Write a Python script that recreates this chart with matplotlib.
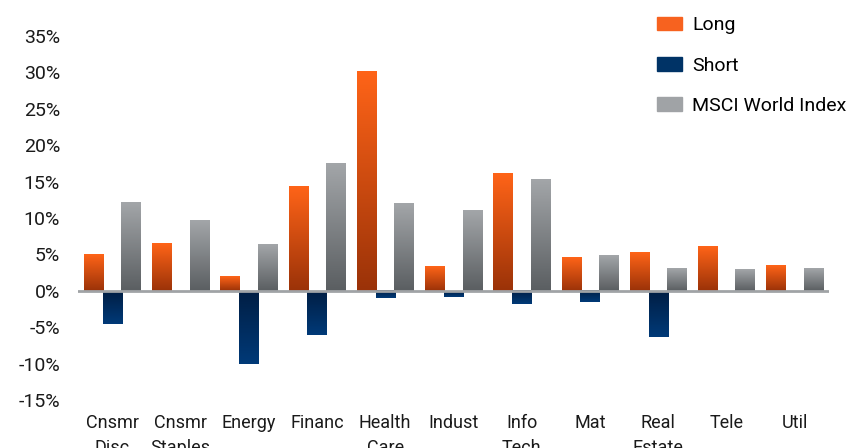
import numpy as np
import matplotlib
matplotlib.use("Agg")
from matplotlib import pyplot as plt
from matplotlib.colors import LinearSegmentedColormap
from matplotlib.patches import Patch

categories = ['Cnsmr\nDisc', 'Cnsmr\nStaples', 'Energy', 'Financ', 'Health\nCare', 'Indust',
              'Info\nTech', 'Mat', 'Real\nEstate', 'Tele', 'Util']
long_vals = [5.0, 6.5, 2.0, 14.3, 30.1, 3.4, 16.1, 4.6, 5.3, 6.1, 3.5]
short_vals = [-4.5, 0.0, -10.0, -6.0, -1.0, -0.8, -1.8, -1.6, -6.3, 0.0, 0.0]
msci_vals = [12.1, 9.7, 6.4, 17.5, 12.0, 11.1, 15.3, 4.9, 3.1, 3.0, 3.1]
yticks = [-15, -10, -5, 0, 5, 10, 15, 20, 25, 30, 35]

plt.rcParams['font.family'] = ['Roboto', 'DejaVu Sans']

fig = plt.figure(figsize=(8.49, 4.48), dpi=100)
ax = fig.add_axes([0.092, 0.107, 0.884, 0.813])

x = np.arange(len(categories))
w = 0.28
off = 0.275

# gradients: (bottom colour, top colour)
grad_long = LinearSegmentedColormap.from_list('lg', ['#9a3208', '#ff6418'])
grad_msci = LinearSegmentedColormap.from_list('mg', ['#5a5e61', '#a3a6a9'])
grad_short = LinearSegmentedColormap.from_list('sg', ['#003a78', '#001e44'])

b_long = ax.bar(x - off, long_vals, w, color='none')
b_short = ax.bar(x, short_vals, w, color='none')
b_msci = ax.bar(x + off, msci_vals, w, color='none')

grad = np.linspace(0, 1, 256).reshape(-1, 1)
for bars, cmap in [(b_long, grad_long), (b_short, grad_short), (b_msci, grad_msci)]:
    for b in bars:
        bx, by = b.get_x(), b.get_y()
        bw, bh = b.get_width(), b.get_height()
        if bh == 0:
            continue
        y0, y1 = min(by, by + bh), max(by, by + bh)
        ax.imshow(grad, extent=[bx, bx + bw, y0, y1], origin='lower',
                  cmap=cmap, aspect='auto', zorder=2)

ax.axhline(0, color='#a0a3a6', lw=2, zorder=3)

ax.set_xlim(-0.5, len(categories) - 0.5)
ax.set_ylim(-15, 35)
ax.set_yticks(yticks)
ax.set_yticklabels([f'{v}%' for v in yticks], fontsize=14, color='#1a1a1a')
ax.set_xticks(x)
ax.set_xticklabels(categories, fontsize=13, color='#1a1a1a', va='top', linespacing=1.5)
ax.tick_params(length=0)
ax.tick_params(axis='x', pad=10)
ax.tick_params(axis='y', pad=13)
for s in ax.spines.values():
    s.set_visible(False)

handles = [Patch(color='#f7621f', label='Long'),
           Patch(color='#003366', label='Short'),
           Patch(color='#a0a3a6', label='MSCI World Index')]
fig.legend(handles=handles, loc='upper left', bbox_to_anchor=(0.758, 0.994),
           frameon=False, fontsize=14, handlelength=1.3, handleheight=0.7,
           labelspacing=1.15, handletextpad=0.5, borderaxespad=0.3)

fig.savefig('out.png', dpi=100)
